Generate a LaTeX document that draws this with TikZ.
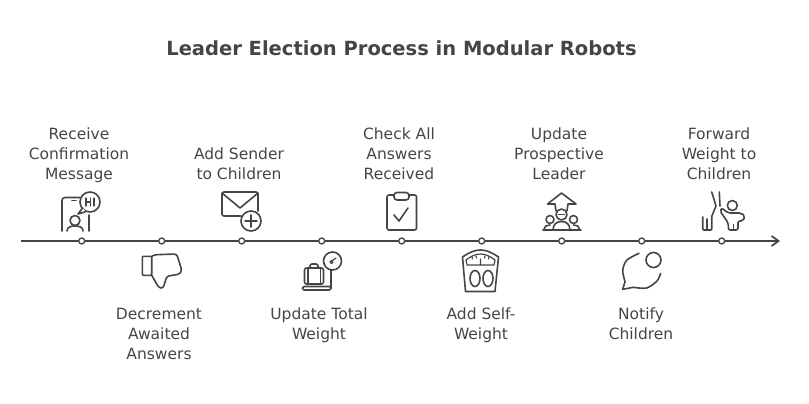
\documentclass[tikz,border=0pt]{standalone}
\usepackage{fontspec}
\usepackage{xcolor}
\setmainfont{DejaVu Sans}
\usetikzlibrary{
  arrows.meta,
  positioning
}
\definecolor{rbInk}{HTML}{454545}
\tikzset{
  stepdot/.style={draw=rbInk, fill=white, circle, line width=1.3pt, minimum size=6pt, inner sep=0pt, outer sep=0pt},
  steplabel/.style={font=\fontsize{15.5}{20}\selectfont, text=rbInk, align=center, inner sep=0pt},
  titlelabel/.style={font=\fontsize{19.5}{20}\selectfont\bfseries, text=rbInk, inner sep=0pt},
  timeline/.style={-{Straight Barb[length=7pt,width=10pt]}, line width=1.7pt, rbInk},
  icon/.style={draw=rbInk, line width=1.6pt, line cap=round, line join=round},
  iconthin/.style={icon, line width=1.2pt}
}
\begin{document}
\begin{tikzpicture}[x=1pt, y=-1pt, node distance=74pt]
  \useasboundingbox (0,0) rectangle (809,404);
  \node[titlelabel] (title) at (401.5,48) {Leader Election Process in Modular Robots};

  \coordinate (start) at (21,241);
  \coordinate (end) at (780,241);
  \draw[timeline] (start) -- (end);

  \node[stepdot] (receive) at (81.7,241) {};
  \node[stepdot, right=of receive] (decrement) {};
  \node[stepdot, right=of decrement] (sender) {};
  \node[stepdot, right=of sender] (total) {};
  \node[stepdot, right=of total] (check) {};
  \node[stepdot, right=of check] (self) {};
  \node[stepdot, right=of self] (prospect) {};
  \node[stepdot, right=of prospect] (notify) {};
  \node[stepdot, right=of notify] (forward) {};

  \node[steplabel, anchor=base] (receivetxt) at (79,179) {Receive\\Confirmation\\Message};
  \node[steplabel, anchor=base] (sendertxt) at (239,179) {Add Sender\\to Children};
  \node[steplabel, anchor=base] (checktxt) at (399,179) {Check All\\Answers\\Received};
  \node[steplabel, anchor=base] (prospecttxt) at (559,179) {Update\\Prospective\\Leader};
  \node[steplabel, anchor=base] (forwardtxt) at (719,179) {Forward\\Weight to\\Children};
  \node[steplabel, anchor=base] (decrementtxt) at (159,359) {Decrement\\Awaited\\Answers};
  \node[steplabel, anchor=base] (totaltxt) at (319,339) {Update Total\\Weight};
  \node[steplabel, anchor=base] (selftxt) at (481,339) {Add Self-\\Weight};
  \node[steplabel, anchor=base] (notifytxt) at (641,339) {Notify\\Children};

  % receive
  \draw[icon, rounded corners=3pt] (62,231) -- (62,197.5) -- (80,197.5);
  \draw[icon] (72,200.5) -- (76,200.5);
  \draw[icon] (89,215) -- (89,231);
  \draw[icon] (90,202) circle[radius=10];
  \draw[icon, fill=white] (82.5,208) -- (78,214) -- (86,211.5);
  \draw[iconthin] (86,198) -- (86,206) (90.5,198) -- (90.5,206) (86,202) -- (90.5,202) (94,198) -- (94,206);
  \draw[icon] (75,220.5) circle[radius=5];
  \draw[icon] (67,231) .. controls (67,227) and (71,226) .. (75,226) .. controls (79,226) and (83,227) .. (83,231);

  % sender
  \draw[icon, rounded corners=2pt] (241,216) -- (222,216) -- (222,192) -- (258,192) -- (258,211);
  \draw[icon] (222,193) -- (240,208) -- (258,193);
  \draw[icon] (251,221) circle[radius=10];
  \draw[icon] (245,221) -- (257,221) (251,215) -- (251,227);

  % check
  \draw[icon, rounded corners=2pt] (394,195) -- (387,195) -- (387,230) -- (416.5,230) -- (416.5,195) -- (409,195);
  \draw[icon, rounded corners=3pt] (394,192.5) rectangle (409,200);
  \draw[icon] (394,215) -- (399,221) -- (408,208);

  % prospect
  \draw[icon] (556,211) -- (555,204) -- (547.5,204) -- (561.5,193) -- (576,204) -- (568,204) -- (567,211);
  \draw[icon] (561.5,214.5) circle[radius=5.5];
  \draw[iconthin] (558.5,214.5) -- (564.5,214.5);
  \draw[icon] (550,219.5) circle[radius=4];
  \draw[icon] (573.5,219.5) circle[radius=4];
  \draw[icon] (543,230) -- (581,230);
  \draw[icon] (553,230) .. controls (553,224) and (557,221.5) .. (561.5,221.5) .. controls (566,221.5) and (570,224) .. (570,230);
  \draw[icon] (544,229) .. controls (544,226) and (547,225) .. (550,225) (579.5,229) .. controls (579.5,226) and (576.5,225) .. (573.5,225);

  % forward
  \draw[icon] (711.7,192) -- (716,206) -- (711.7,216.5) (719.3,192) -- (720,206);
  \draw[icon, rounded corners=1pt] (702.7,217) -- (702.7,230) -- (711.7,230) -- (711.7,216.5);
  \draw[icon] (707.2,219) -- (707.2,230);
  \draw[icon, rounded corners=2pt] (721.7,208) -- (728,213) -- (741,213) -- (745,216) -- (743,221) -- (738,221) -- (738,230) -- (728.3,230) -- (728.3,223) -- (720,211) -- cycle;
  \draw[icon] (733.3,224.5) -- (733.3,230);
  \draw[icon] (732.3,205.5) circle[radius=5];

  % decrement
  \draw[icon, rounded corners=1pt] (142.3,256.3) rectangle (151.7,275.3);
  \draw[icon, rounded corners=2.5pt] (151.7,256.3) -- (155,254.7) -- (176.7,254) -- (181.7,270) -- (180,274) -- (166.7,276.3) -- (163.3,288) -- (159,288) -- (151.7,275.3);

  % total
  \draw[icon, rounded corners=1.5pt] (302.5,286.5) rectangle (331,290);
  \draw[icon] (331,269.5) -- (331,288);
  \draw[icon] (332.5,261) circle[radius=9];
  \draw[iconthin] (331.5,262) circle[radius=1.5];
  \draw[iconthin] (332.5,260.5) -- (336,258);
  \draw[icon, rounded corners=2pt] (304.5,268) rectangle (323.5,284);
  \draw[icon] (308,268.5) -- (308,283.5) (320.5,268.5) -- (320.5,283.5);
  \draw[icon, rounded corners=2pt] (310,268) -- (310,264) -- (318,264) -- (318,268);

  % self
  \draw[icon] (465.5,291.5) -- (462.5,257) .. controls (470,252) and (475,250) .. (480.5,250) .. controls (486,250) and (491,252) .. (498.5,257) -- (495,291.5) -- cycle;
  \draw[iconthin] (467,265) -- (466,260) .. controls (471,256) and (476,254) .. (480.5,254) .. controls (485,254) and (490,256) .. (495,260) -- (494,265) -- cycle;
  \draw[iconthin] (480.5,259) -- (480.5,265) (472,257) -- (472.5,259) (476,256) -- (476.5,258) (485,256) -- (484.5,258) (489,257) -- (488.5,259);
  \draw[icon] (475,278.5) ellipse[x radius=5, y radius=8];
  \draw[icon] (488,278.5) ellipse[x radius=5, y radius=8];

  % notify
  \draw[icon] (653.5,260) circle[radius=7.5];
  \draw[icon] plot[smooth] coordinates {(639,253.3) (627,260) (622.7,270) (625,281.7)};
  \draw[icon] (625,281.7) -- (622.7,289.3) -- (633.3,287.3);
  \draw[icon] plot[smooth] coordinates {(633.3,287.3) (646.7,288) (657,281) (660.7,273.3)};
\end{tikzpicture}
\end{document}
